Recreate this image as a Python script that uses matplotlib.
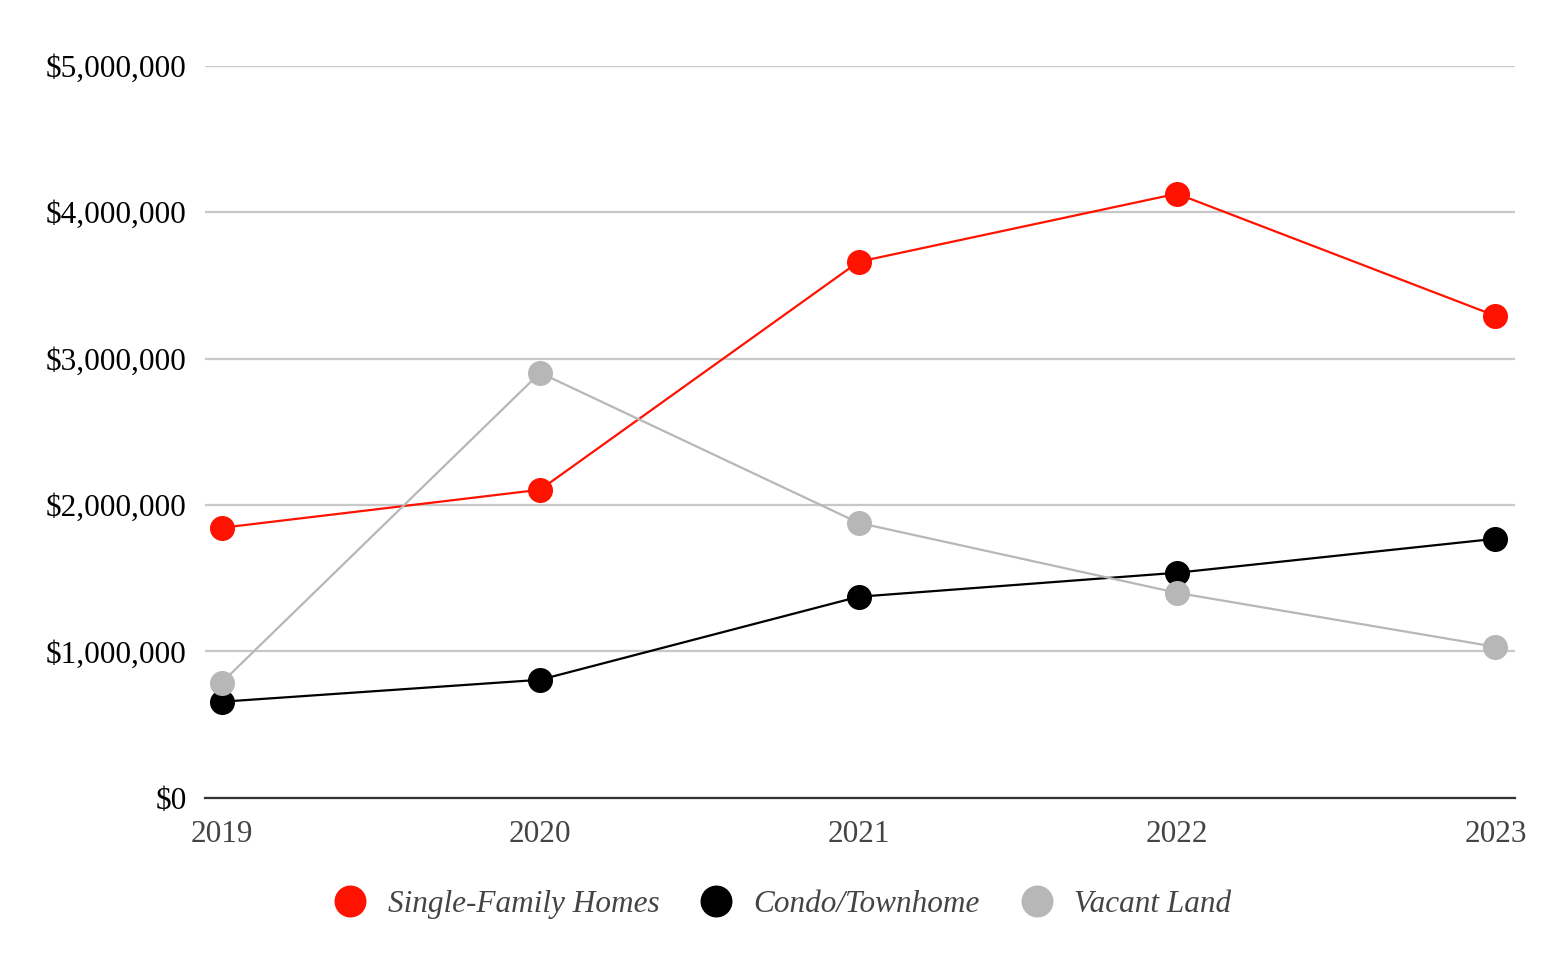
import matplotlib
matplotlib.use("Agg")
import matplotlib.pyplot as plt
from matplotlib.ticker import FuncFormatter

years = [2019, 2020, 2021, 2022, 2023]
single_family = [1844000, 2104000, 3661000, 4126000, 3292000]
condo = [656000, 806000, 1373000, 1537000, 1769000]
vacant_land = [786000, 2903000, 1878000, 1400000, 1031000]

plt.rcParams['font.family'] = ['Liberation Serif', 'DejaVu Serif']

fig = plt.figure(figsize=(15.63, 9.67), dpi=100)
ax = fig.add_axes([0.131, 0.175, 0.838, 0.757])

series = [
    ("Single-Family Homes", single_family, "#ff1200"),
    ("Condo/Townhome", condo, "#000000"),
    ("Vacant Land", vacant_land, "#b7b7b7"),
]
handles = []
for name, vals, col in series:
    ax.plot(years, vals, color=col, lw=1.6, zorder=3)
    ax.plot(years, vals, 'o', color=col, ms=17, zorder=4)
    h, = ax.plot([], [], 'o', color=col, ms=22, label=name)
    handles.append(h)

ax.set_ylim(0, 5000000)
ax.set_xlim(2019 - 0.053, 2023 + 0.06)
ax.set_yticks([0, 1000000, 2000000, 3000000, 4000000, 5000000])
ax.yaxis.set_major_formatter(FuncFormatter(lambda v, p: "${:,.0f}".format(v)))
ax.set_xticks(years)
ax.grid(axis='y', color='#c8c8c8', lw=1.6)
ax.set_axisbelow(True)
for s in ['top', 'right', 'left']:
    ax.spines[s].set_visible(False)
ax.spines['bottom'].set_color('#333333')
ax.spines['bottom'].set_linewidth(1.6)
ax.tick_params(axis='both', length=0, labelsize=22.5)
ax.tick_params(axis='y', pad=13, colors='black')
ax.tick_params(axis='x', pad=16, labelcolor='#444444')

leg = fig.legend(handles=handles, loc='center', bbox_to_anchor=(0.5, 0.065), ncol=3,
                 frameon=False, prop={'style': 'italic', 'size': 22.5},
                 handletextpad=0.6, columnspacing=1.22, handlelength=1.2)
for t in leg.get_texts():
    t.set_color('#444444')

fig.savefig("out.png", dpi=100)
